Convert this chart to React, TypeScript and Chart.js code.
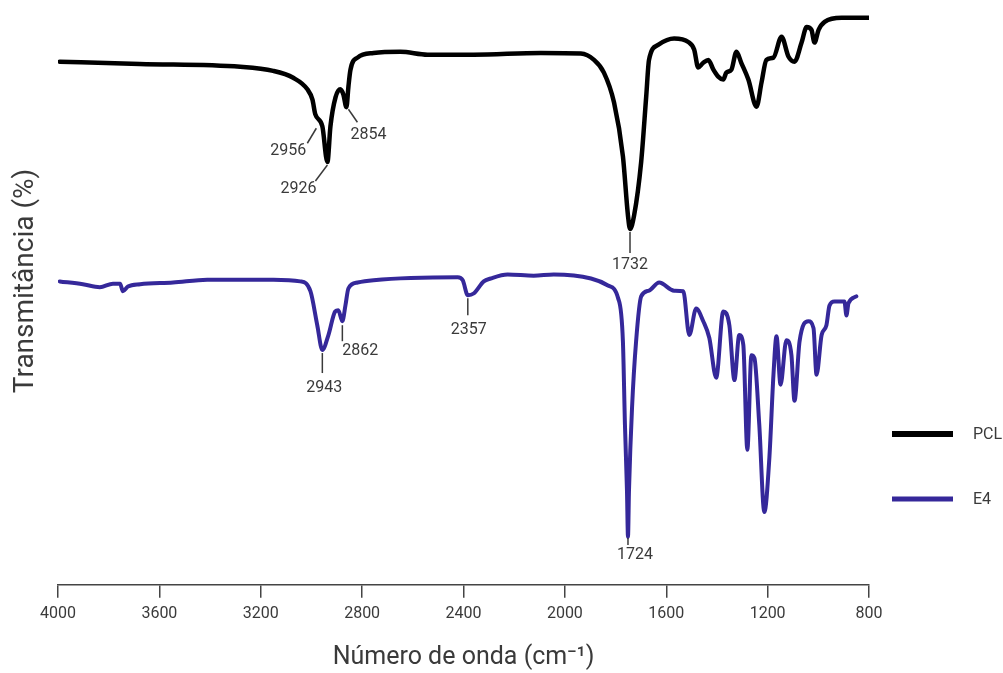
import React, { useEffect, useRef } from 'react';
import { Chart, registerables } from 'chart.js';

Chart.register(...registerables);

// ---------- data ----------
const seriesNames = ['PCL', 'E4'];

const pclWavenumber = [
  3993, 3677, 3281, 3151, 3072, 3016, 2996, 2985, 2957, 2937, 2925, 2905, 2886, 2874, 2862,
  2854, 2846, 2818, 2755, 2649, 2542, 2360, 2095, 1937, 1885, 1846, 1806, 1771, 1751, 1743,
  1727, 1699, 1679, 1668, 1632, 1569, 1513, 1490, 1474, 1454, 1434, 1414, 1395, 1375, 1363,
  1343, 1323, 1304, 1276, 1244, 1224, 1205, 1177, 1145, 1118, 1094, 1066, 1046, 1027, 1015,
  999, 975, 908, 801,
];
const pclTransmittance = [
  90.7, 90.3, 89.8, 89.1, 87.9, 85.9, 84.1, 81.6, 79.5, 73.3, 79.5, 84.5, 85.9, 85.0, 82.8,
  86.4, 89.3, 91.4, 92.2, 92.4, 91.9, 91.9, 92.2, 92.1, 91.0, 88.8, 83.6, 74.3, 64.0, 61.7,
  64.0, 73.3, 84.7, 91.0, 93.6, 94.7, 94.1, 92.8, 89.7, 90.5, 91.0, 89.3, 88.1, 87.6, 88.8,
  89.3, 92.4, 90.5, 87.6, 82.9, 87.1, 91.0, 91.4, 95.0, 91.6, 90.7, 94.0, 96.7, 96.2, 94.0,
  96.2, 97.6, 98.3, 98.3,
];

const e4Wavenumber = [
  3993, 3902, 3835, 3783, 3755, 3744, 3724, 3676, 3546, 3411, 3150, 3044, 3004, 2977, 2957,
  2933, 2906, 2894, 2878, 2866, 2854, 2818, 2755, 2423, 2403, 2383, 2360, 2320, 2293, 2226,
  2123, 2044, 1897, 1830, 1790, 1771, 1763, 1755, 1751, 1747, 1735, 1719, 1699, 1668, 1628,
  1569, 1533, 1509, 1482, 1454, 1430, 1403, 1375, 1351, 1331, 1312, 1296, 1280, 1264, 1252,
  1233, 1213, 1193, 1177, 1165, 1149, 1126, 1106, 1094, 1074, 1039, 1019, 1007, 987, 968,
  956, 936, 897, 889, 881, 850,
];
const e4Transmittance = [
  52.6, 52.1, 51.6, 52.2, 52.2, 50.9, 51.7, 52.1, 52.4, 52.9, 52.9, 52.6, 50.9, 45.0, 40.7,
  43.3, 47.4, 47.6, 45.7, 48.4, 51.4, 52.4, 52.8, 53.3, 52.8, 50.2, 50.5, 52.6, 53.1, 53.8,
  53.6, 53.8, 53.1, 51.9, 49.7, 42.2, 27.8, 16.4, 8.3, 16.4, 30.7, 42.2, 50.0, 51.0, 52.4,
  51.0, 50.9, 43.3, 47.9, 45.7, 42.8, 35.9, 47.4, 45.0, 35.5, 43.3, 41.6, 23.4, 39.8, 39.3,
  27.8, 12.6, 22.1, 36.4, 43.1, 34.7, 42.4, 39.8, 31.9, 42.2, 45.7, 44.5, 36.4, 43.3, 45.0,
  48.4, 49.1, 49.1, 46.7, 48.8, 50.0,
];

const xTickValues = [4000, 3600, 3200, 2800, 2400, 2000, 1600, 1200, 800];

// peak annotations: label text and the wavenumber of the plotted point it marks
const pclPeakLabels = ['2956', '2926', '2854', '1732'];
const pclPeakAt = [2957, 2937, 2862, 1743];
const e4PeakLabels = ['2943', '2862', '2357', '1724'];
const e4PeakAt = [2957, 2878, 2383, 1751];

const yTitle = 'Transmitância (%)';
const xTitle = 'Número de onda (cm⁻¹)';

// ---------- styles (pixel offsets for leader lines / labels) ----------
const pclLeaderStyle = [
  { from: [-6, 2], to: [-15, 17], text: [-34, 25] },
  { from: [0, 3], to: [-12, 19], text: [-29, 27] },
  { from: [2, 2], to: [11, 15], text: [22, 28] },
  { from: [0, 3], to: [0, 24], text: [0, 36] },
];
const e4LeaderStyle = [
  { from: [0, 3], to: [0, 23], text: [2, 38] },
  { from: [0, 4], to: [0, 20], text: [18, 30] },
  { from: [0, 3], to: [0, 20], text: [1, 35] },
  { from: [0, 1], to: [0, 8], text: [7, 18] },
];

const COLORS = ['#000000', '#35289a'];
const FONT = "Roboto, 'Noto Sans', 'DejaVu Sans', sans-serif";
const TEXT_COLOR = '#3a3a3a';

function toPoints(xs: number[], ys: number[]) {
  return xs.map((x, i) => ({ x, y: ys[i] }));
}

const annotationPlugin = {
  id: 'peakAnnotations',
  afterDatasetsDraw(chart: any) {
    const { ctx, scales } = chart;
    const xs = scales.x;
    const ys = scales.y;
    const groups = [
      { labels: pclPeakLabels, at: pclPeakAt, wn: pclWavenumber, t: pclTransmittance, style: pclLeaderStyle },
      { labels: e4PeakLabels, at: e4PeakAt, wn: e4Wavenumber, t: e4Transmittance, style: e4LeaderStyle },
    ];
    ctx.save();
    ctx.font = `16px ${FONT}`;
    ctx.fillStyle = TEXT_COLOR;
    ctx.strokeStyle = '#3a3a3a';
    ctx.lineWidth = 1.5;
    ctx.textAlign = 'center';
    ctx.textBaseline = 'middle';
    groups.forEach((g) => {
      g.labels.forEach((label, i) => {
        const idx = g.wn.indexOf(g.at[i]);
        const px = xs.getPixelForValue(g.at[i]);
        const py = ys.getPixelForValue(g.t[idx]);
        const s = g.style[i];
        ctx.beginPath();
        ctx.moveTo(px + s.from[0], py + s.from[1]);
        ctx.lineTo(px + s.to[0], py + s.to[1]);
        ctx.stroke();
        ctx.fillText(label, px + s.text[0], py + s.text[1]);
      });
    });
    ctx.restore();
  },
};

const sidePlugin = {
  id: 'sideLegendAndYTitle',
  afterDraw(chart: any) {
    const { ctx } = chart;
    ctx.save();
    // y-axis title
    ctx.save();
    ctx.translate(26, 281);
    ctx.rotate(-Math.PI / 2);
    ctx.font = `28px ${FONT}`;
    ctx.fillStyle = TEXT_COLOR;
    ctx.textAlign = 'center';
    ctx.textBaseline = 'middle';
    ctx.fillText(yTitle, 0, 0);
    ctx.restore();
    // legend
    ctx.font = `16px ${FONT}`;
    ctx.textAlign = 'left';
    ctx.textBaseline = 'middle';
    const rows = [434, 499];
    seriesNames.forEach((name, i) => {
      ctx.strokeStyle = COLORS[i];
      ctx.lineWidth = i === 0 ? 6 : 5;
      ctx.beginPath();
      ctx.moveTo(892, rows[i]);
      ctx.lineTo(953, rows[i]);
      ctx.stroke();
      ctx.fillStyle = TEXT_COLOR;
      ctx.fillText(name, 973, rows[i] + 1);
    });
    ctx.restore();
  },
};

export default function App() {
  const canvasRef = useRef<HTMLCanvasElement | null>(null);

  useEffect(() => {
    document.body.style.margin = '0';
    const canvas = canvasRef.current;
    if (!canvas) return;
    const chart = new Chart(canvas, {
      type: 'line',
      data: {
        datasets: [
          {
            label: seriesNames[0],
            data: toPoints(pclWavenumber, pclTransmittance),
            borderColor: COLORS[0],
            borderWidth: 4.5,
            pointRadius: 0,
            cubicInterpolationMode: 'monotone',
            borderJoinStyle: 'round',
            borderCapStyle: 'round',
            fill: false,
          },
          {
            label: seriesNames[1],
            data: toPoints(e4Wavenumber, e4Transmittance),
            borderColor: COLORS[1],
            borderWidth: 4,
            pointRadius: 0,
            cubicInterpolationMode: 'monotone',
            borderJoinStyle: 'round',
            borderCapStyle: 'round',
            fill: false,
          },
        ],
      },
      options: {
        animation: false,
        responsive: false,
        maintainAspectRatio: false,
        layout: { padding: { left: 58, right: 134, top: 8, bottom: 0 } },
        plugins: {
          legend: { display: false },
          tooltip: { enabled: false },
        },
        scales: {
          x: {
            type: 'linear',
            reverse: true,
            min: 800,
            max: 4000,
            afterBuildTicks: (axis: any) => {
              axis.ticks = xTickValues.map((v) => ({ value: v }));
            },
            grid: {
              display: true,
              drawOnChartArea: false,
              drawTicks: true,
              tickLength: 13,
              color: '#444444',
              lineWidth: 1.5,
            },
            border: { display: true, color: '#444444', width: 1.5 },
            ticks: {
              color: TEXT_COLOR,
              font: { family: FONT, size: 16 },
              padding: 7,
              maxRotation: 0,
              autoSkip: false,
              callback: (v: any) => String(v),
            },
            title: {
              display: true,
              text: xTitle,
              color: TEXT_COLOR,
              font: { family: FONT, size: 25 },
              padding: { top: 12, bottom: 0 },
            },
          },
          y: {
            type: 'linear',
            display: false,
            min: 0,
            max: 100,
          },
        },
      },
      plugins: [annotationPlugin, sidePlugin],
    } as any);
    return () => chart.destroy();
  }, []);

  return (
    <div style={{ position: 'absolute', left: 0, top: 0, width: 1003, height: 673, background: '#fff' }}>
      <canvas ref={canvasRef} width={1003} height={673} />
    </div>
  );
}
